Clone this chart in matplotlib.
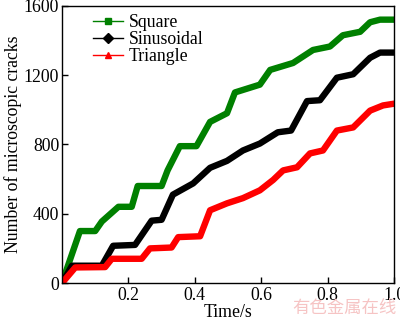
import matplotlib
matplotlib.use("Agg")
import matplotlib.pyplot as plt
from matplotlib.lines import Line2D

# ---- data ----
t_square = [0, 0.054, 0.10, 0.12, 0.17, 0.21, 0.228, 0.30, 0.318, 0.355, 0.405, 0.446,
            0.497, 0.521, 0.596, 0.627, 0.696, 0.756, 0.807, 0.846, 0.898, 0.928, 0.958, 1.0]
v_square = [0, 300, 300, 355, 440, 440, 560, 560, 650, 790, 790, 930,
            980, 1100, 1145, 1230, 1270, 1345, 1365, 1430, 1450, 1505, 1520, 1520]

t_sin = [0, 0.03, 0.12, 0.154, 0.22, 0.27, 0.30, 0.334, 0.395, 0.446, 0.497, 0.545,
         0.596, 0.65, 0.69, 0.738, 0.777, 0.828, 0.877, 0.928, 0.958, 1.0]
v_sin = [0, 100, 100, 215, 220, 360, 365, 510, 575, 665, 705, 765,
         805, 870, 880, 1050, 1055, 1185, 1205, 1300, 1330, 1330]

t_tri = [0, 0.04, 0.13, 0.15, 0.24, 0.265, 0.33, 0.35, 0.416, 0.446, 0.497, 0.545,
         0.596, 0.636, 0.666, 0.708, 0.747, 0.786, 0.828, 0.877, 0.928, 0.967, 1.0]
v_tri = [0, 90, 92, 140, 140, 200, 205, 265, 270, 420, 460, 490,
         535, 595, 650, 668, 748, 765, 880, 898, 995, 1025, 1035]

labels = ["Square", "Sinusoidal", "Triangle"]
colors = ["#008000", "#000000", "#ff0000"]
markers = ["s", "D", "^"]

xticks = [0.2, 0.4, 0.6, 0.8, 1.0]
xticklabels = ["0.2", "0.4", "0.6", "0.8", "1.0"]
yticks = [0, 400, 800, 1200, 1600]
yticklabels = ["0", "400", "800", "1200", "1600"]

plt.rcParams['font.family'] = ['Liberation Serif', 'DejaVu Serif']
FS = 12.8

fig = plt.figure(figsize=(4.0, 3.22), dpi=100)
ax = fig.add_axes([0.155, 0.121, 0.83, 0.861])

series = [(t_square, v_square), (t_sin, v_sin), (t_tri, v_tri)]
for (t, v), c in zip(series, colors):
    ax.plot(t, v, color=c, lw=4.6, solid_joinstyle='round', solid_capstyle='round')

ax.set_xlim(0, 1.0)
ax.set_ylim(0, 1600)
ax.set_xticks(xticks)
ax.set_xticklabels(xticklabels)
ax.set_yticks(yticks)
ax.set_yticklabels(yticklabels)
ax.tick_params(direction='in', length=4, width=1, labelsize=FS, top=False, right=False)
ax.tick_params(axis='y', pad=2)
ax.tick_params(axis='x', pad=3)
for s in ax.spines.values():
    s.set_linewidth(1.0)

ax.set_xlabel("Time/s", fontsize=FS, labelpad=0)
ax.set_ylabel("Number of microscopic cracks", fontsize=FS, labelpad=1)

handles = [Line2D([0], [0], color=c, lw=1, marker=m, markersize=5) for c, m in zip(colors, markers)]
ax.legend(handles, labels, loc='upper left', bbox_to_anchor=(0.05, 1.022), frameon=False,
          fontsize=FS, handlelength=1.7, handletextpad=0.3, labelspacing=0.0, borderpad=0.3)

fig.text(0.862, 0.043, "有色金属在线", color="#f6c4c4", fontsize=12.5, ha='center', va='center',
         family=['Noto Sans CJK SC', 'DejaVu Sans'])

fig.savefig("out.png", dpi=100)
